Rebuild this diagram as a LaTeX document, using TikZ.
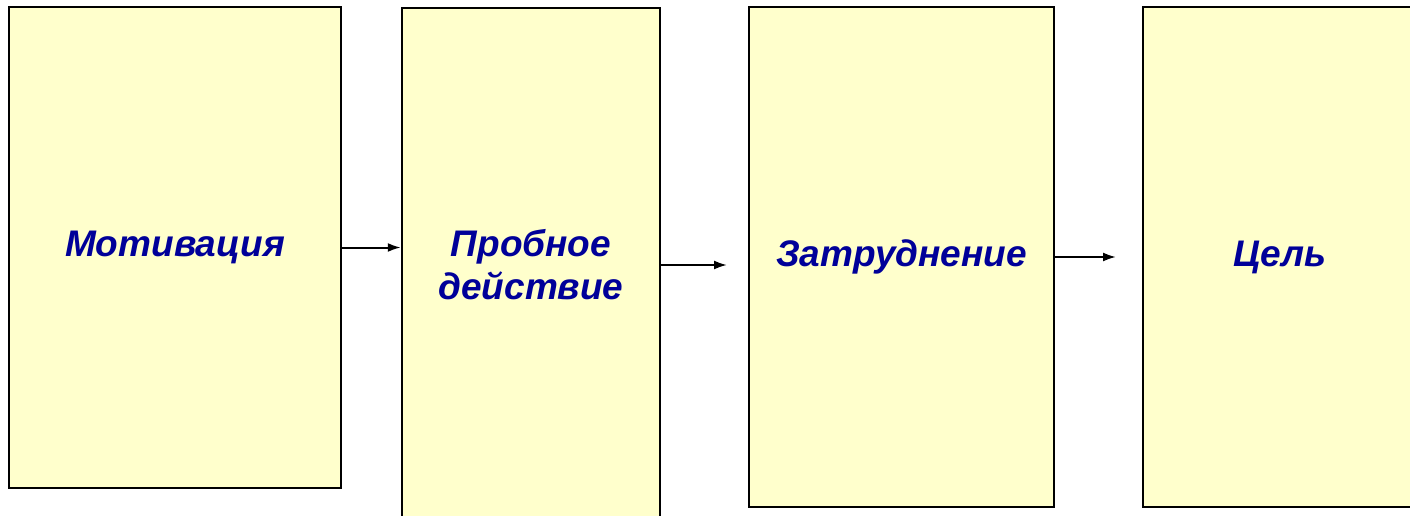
\documentclass[tikz,border=0pt]{standalone}
\usepackage{fontspec}
\setmainfont{Liberation Sans}
\usetikzlibrary{arrows.meta}
\definecolor{paleyellow}{HTML}{FFFFCC}
\definecolor{inkblue}{HTML}{000099}

\begin{document}
\begin{tikzpicture}[x=1pt,y=-1pt]
	\tikzset{stage/.style={draw=black, line width=2.5pt, fill=paleyellow, inner sep=0pt,
			text=inkblue, align=center, font=\fontsize{37}{43}\selectfont\bfseries\itshape},
		link/.style={line width=2pt, -{Latex[length=13pt,width=9pt]}}}

	\clip (0,0) rectangle (1410,516);

	\node [stage, minimum width=332, minimum height=481] (motiv) at (175,247.5) {Мотивация};
	\node [stage, minimum width=258, minimum height=514] (trial) at (531,265) {Пробное\\действие};
	\node [stage, minimum width=305, minimum height=500] (hard) at (901.5,257) {Затруднение};
	\node [stage, minimum width=274, minimum height=500] (goal) at (1280,257) {Цель};

	\coordinate (t2) at (727,265);
	\coordinate (t3) at (1116,257);
	\draw [link] (motiv.east) -- (motiv.east -| trial.west);
	\draw [link] (trial.east |- t2) -- (t2);
	\draw [link] (hard.east) -- (t3);
\end{tikzpicture}
\end{document}
